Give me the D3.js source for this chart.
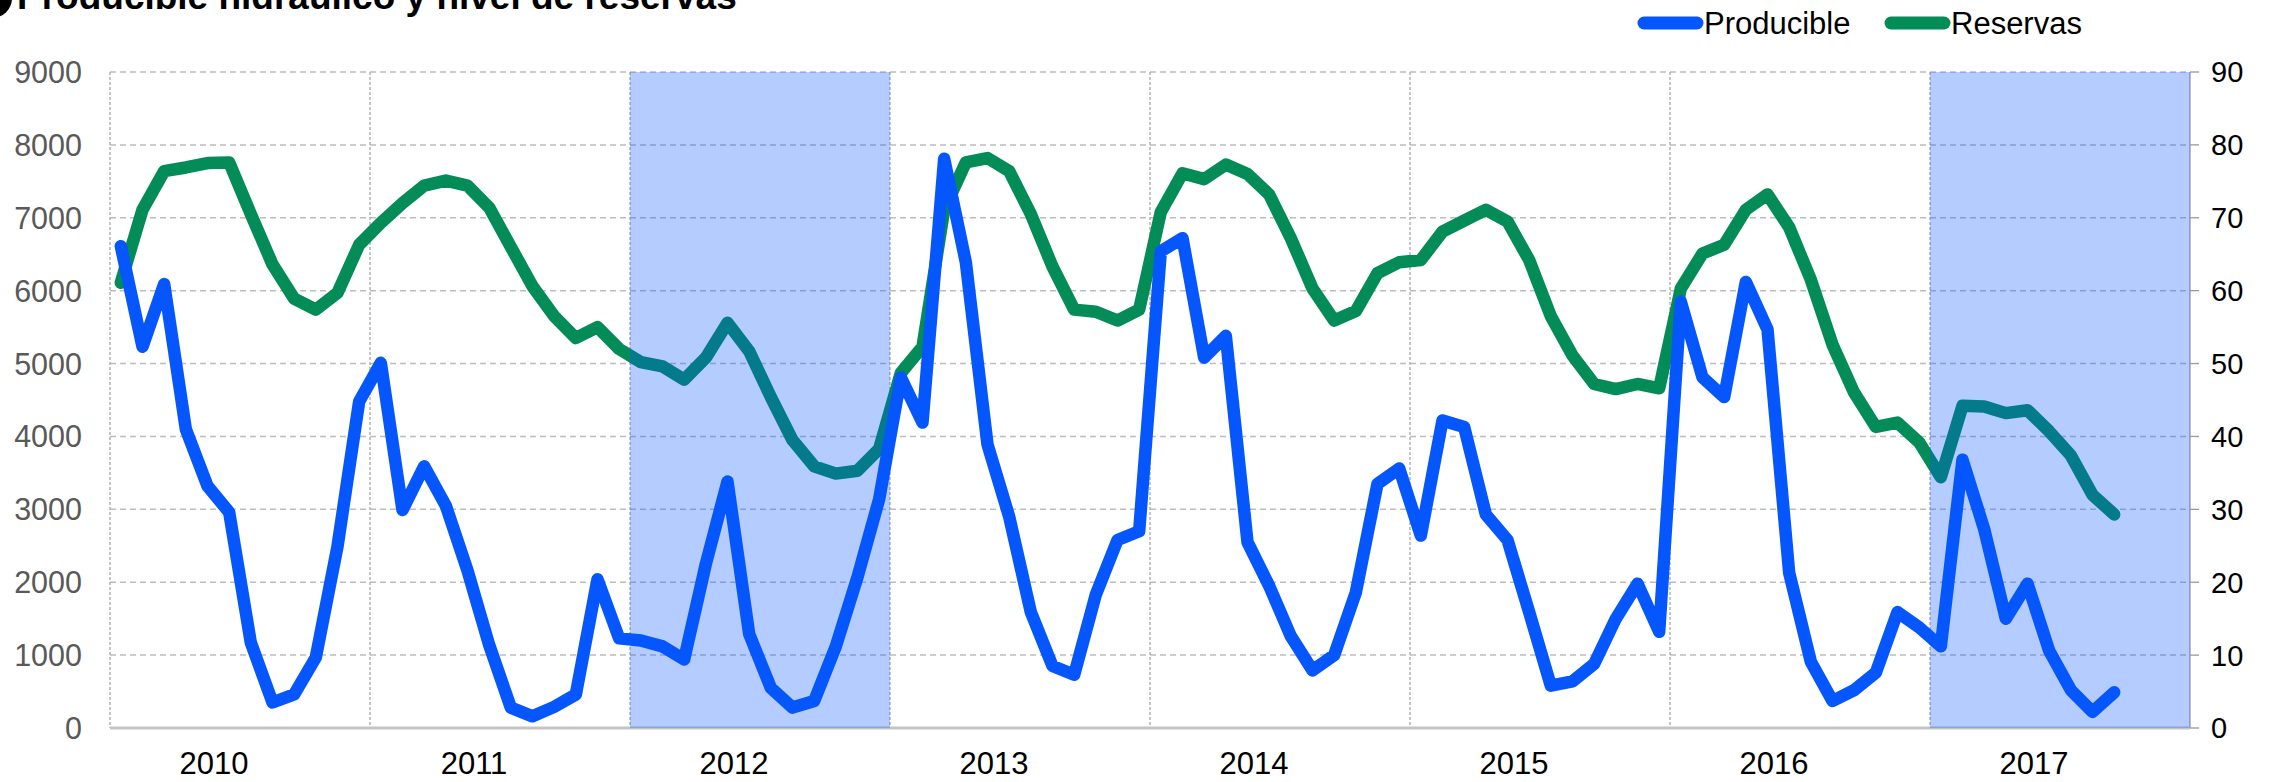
<!DOCTYPE html>
<html lang="es">
<head>
    <meta charset="UTF-8">
    <title>Producible hidráulico y nivel de reservas</title>
    <script src="https://cdnjs.cloudflare.com/ajax/libs/d3/7.8.5/d3.min.js"></script>
    <style>
        body { margin: 0; background: #fff; }
        svg { font-family: "Liberation Sans", Arial, sans-serif; display: block; }
    </style>
</head>
<body>
<div id="chart"></div>
<script>
    // years on the x axis, shaded years
    const years = ["2010", "2011", "2012", "2013", "2014", "2015", "2016", "2017"];
    const shadedYears = ["2012", "2017"];

    // Producible (left axis), monthly from Jan 2010 to Sep 2017
    const producible = [
        6610, 5230, 6090, 4100, 3320, 2960, 1170, 350, 460, 970, 2490, 4480,
        5010, 2990, 3590, 3050, 2160, 1140, 280, 160, 290, 460, 2040, 1230,
        1200, 1120, 940, 2250, 3380, 1290, 550, 280, 370, 1120, 2070, 3140,
        4810, 4190, 7810, 6390, 3890, 2900, 1590, 850, 730, 1830, 2580, 2700,
        6540, 6720, 5080, 5380, 2550, 1950, 1260, 790, 1000, 1860, 3350, 3560,
        2640, 4220, 4130, 2930, 2580, 1590, 580, 640, 880, 1500, 1980, 1320,
        5850, 4810, 4540, 6120, 5470, 2130, 910, 370, 520, 760, 1590, 1380,
        1120, 3680, 2730, 1500, 1980, 1060, 520, 220, 490
    ];

    // Reservas (right axis, %)
    const reservas = [
        61.1, 71.1, 76.4, 76.9, 77.5, 77.6, 70.5, 63.6, 58.9, 57.4, 59.7, 66.3,
        69.3, 72.0, 74.4, 75.1, 74.4, 71.4, 66.0, 60.6, 56.5, 53.5, 55.0, 52.0,
        50.2, 49.6, 47.8, 50.8, 55.6, 51.7, 45.4, 39.5, 35.9, 34.9, 35.3, 38.3,
        48.7, 52.3, 71.1, 77.6, 78.2, 76.4, 70.5, 63.3, 57.4, 57.1, 55.9, 57.4,
        70.8, 76.1, 75.3, 77.3, 76.0, 73.2, 67.2, 60.3, 55.9, 57.2, 62.4, 63.9,
        64.2, 68.1, 69.6, 71.1, 69.5, 64.2, 56.5, 51.1, 47.2, 46.5, 47.2, 46.6,
        60.3, 65.1, 66.3, 71.1, 73.2, 68.7, 61.5, 52.6, 46.0, 41.3, 41.9, 39.2,
        34.4, 44.2, 44.1, 43.2, 43.6, 40.7, 37.4, 32.0, 29.3
    ];

    const leftTicks = [0, 1000, 2000, 3000, 4000, 5000, 6000, 7000, 8000, 9000];
    const rightTicks = [0, 10, 20, 30, 40, 50, 60, 70, 80, 90];

    const width = 2270, height = 782;
    const margin = { left: 110, right: 2190, top: 72, bottom: 728 };

    const blue = "#0656fe";
    const green = "#038c58";
    const grid = "#bdbdbd";

    const svg = d3.select("#chart").append("svg")
        .attr("width", width)
        .attr("height", height);

    const yearScale = d3.scaleBand().domain(years).range([margin.left, margin.right]);
    const x = d3.scaleLinear().domain([0, years.length * 12]).range([margin.left, margin.right]);
    const yL = d3.scaleLinear().domain([0, 9000]).range([margin.bottom, margin.top]);
    const yR = d3.scaleLinear().domain([0, 90]).range([margin.bottom, margin.top]);

    // horizontal grid
    svg.append("g").selectAll("line")
        .data(leftTicks.filter(d => d > 0))
        .enter().append("line")
        .attr("x1", margin.left).attr("x2", margin.right)
        .attr("y1", d => yL(d)).attr("y2", d => yL(d))
        .attr("stroke", grid).attr("stroke-width", 1.5)
        .attr("stroke-dasharray", "6,4");

    // vertical year separators
    svg.append("g").selectAll("line")
        .data(years.map(d => yearScale(d)).concat([margin.right]))
        .enter().append("line")
        .attr("x1", d => d).attr("x2", d => d)
        .attr("y1", margin.top).attr("y2", margin.bottom)
        .attr("stroke", (d, i) => i === years.length ? "#9a9a9a" : "#a8a8a8")
        .attr("stroke-width", 1.3)
        .attr("stroke-dasharray", (d, i) => i === years.length ? null : "3,2");

    // bottom axis line
    svg.append("line")
        .attr("x1", margin.left).attr("x2", margin.right)
        .attr("y1", margin.bottom).attr("y2", margin.bottom)
        .attr("stroke", "#c4c4c4").attr("stroke-width", 3);

    const line = d3.line()
        .x((d, i) => x(i + 0.5));

    // reservas under the shading
    svg.append("path")
        .datum(reservas)
        .attr("d", line.y(d => yR(d)))
        .attr("fill", "none")
        .attr("stroke", green)
        .attr("stroke-width", 12.5)
        .attr("stroke-linejoin", "round")
        .attr("stroke-linecap", "round");

    // shaded years
    svg.append("g").selectAll("rect")
        .data(shadedYears)
        .enter().append("rect")
        .attr("x", d => yearScale(d))
        .attr("y", margin.top)
        .attr("width", yearScale.bandwidth())
        .attr("height", margin.bottom - margin.top)
        .attr("fill", blue)
        .attr("fill-opacity", 0.3);

    // producible on top
    svg.append("path")
        .datum(producible)
        .attr("d", line.y(d => yL(d)))
        .attr("fill", "none")
        .attr("stroke", blue)
        .attr("stroke-width", 12.5)
        .attr("stroke-linejoin", "round")
        .attr("stroke-linecap", "round");

    // left axis labels
    svg.append("g").selectAll("text")
        .data(leftTicks)
        .enter().append("text")
        .attr("x", 82)
        .attr("y", d => yL(d))
        .attr("dy", "0.36em")
        .attr("text-anchor", "end")
        .attr("fill", "#595959")
        .style("font-size", "30.5px")
        .text(d => d);

    // right axis ticks + labels
    svg.append("g").selectAll("line")
        .data(rightTicks)
        .enter().append("line")
        .attr("x1", margin.right).attr("x2", margin.right + 9)
        .attr("y1", d => yR(d)).attr("y2", d => yR(d))
        .attr("stroke", "#9a9a9a").attr("stroke-width", 1.3);

    svg.append("g").selectAll("text")
        .data(rightTicks)
        .enter().append("text")
        .attr("x", 2211)
        .attr("y", d => yR(d))
        .attr("dy", "0.36em")
        .attr("fill", "#000")
        .style("font-size", "29px")
        .text(d => d);

    // year labels (sit a bit left of the band centre, as in the original)
    svg.append("g").selectAll("text")
        .data(years)
        .enter().append("text")
        .attr("x", d => yearScale(d) + yearScale.bandwidth() / 2 - 26)
        .attr("y", 774)
        .attr("text-anchor", "middle")
        .attr("fill", "#000")
        .style("font-size", "31px")
        .text(d => d);

    // title (cut at top like the original)
    svg.append("circle")
        .attr("cx", -8).attr("cy", -2).attr("r", 20)
        .attr("fill", "#000");
    svg.append("text")
        .attr("x", 17).attr("y", 9)
        .attr("font-weight", "bold")
        .style("font-size", "37px")
        .text("Producible hidráulico y nivel de reservas");

    // legend
    const legend = [
        { name: "Producible", color: blue, x: 1638 },
        { name: "Reservas", color: green, x: 1885 }
    ];
    const lg = svg.append("g").selectAll("g")
        .data(legend)
        .enter().append("g");
    lg.append("line")
        .attr("x1", d => d.x + 6).attr("x2", d => d.x + 59)
        .attr("y1", 23).attr("y2", 23)
        .attr("stroke", d => d.color)
        .attr("stroke-width", 13)
        .attr("stroke-linecap", "round");
    lg.append("text")
        .attr("x", d => d.x + 66)
        .attr("y", 23)
        .attr("dy", "0.36em")
        .style("font-size", "31px")
        .text(d => d.name);
</script>
</body>
</html>
